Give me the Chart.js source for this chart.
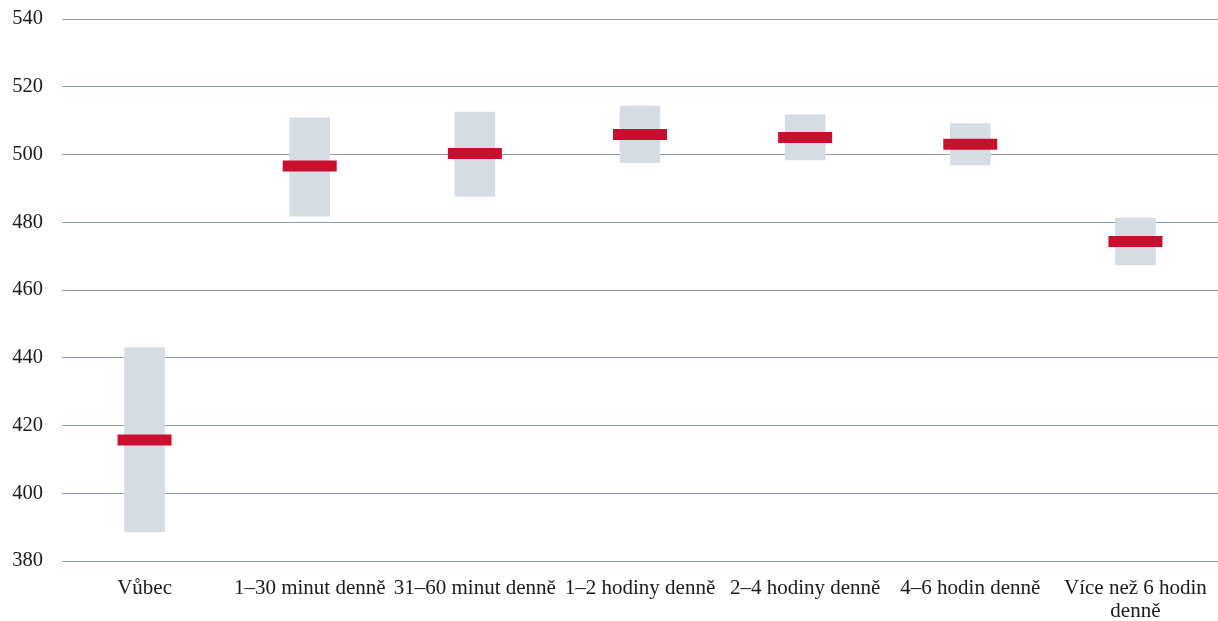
<!DOCTYPE html>
<html>
<head>
<meta charset="utf-8">
<script src="https://cdn.jsdelivr.net/npm/chart.js@4"></script>
<style>
html,body{margin:0;padding:0;background:#fff;overflow:hidden;}
#wrap{width:1218px;height:621px;position:relative;}
</style>
</head>
<body>
<div id="wrap"><canvas id="c"></canvas></div>
<script>
const categories = ["Vůbec", "1–30 minut denně", "31–60 minut denně", "1–2 hodiny denně", "2–4 hodiny denně", "4–6 hodin denně", ["Více než 6 hodin", "denně"]];
const rangeLow  = [388.6, 481.8, 487.7, 497.6, 498.4, 496.9, 467.4];
const rangeHigh = [442.9, 510.8, 512.5, 514.3, 511.7, 509.1, 481.2];
const means     = [415.7, 496.6, 500.3, 505.9, 505.0, 503.0, 474.3];
const yTicks    = [380, 400, 420, 440, 460, 480, 500, 520, 540];

const FONT = "'Liberation Serif', 'Times New Roman', serif";

new Chart(document.getElementById('c'), {
  type: 'bar',
  data: {
    labels: categories,
    datasets: [
      {
        type: 'line',
        label: 'Průměr',
        data: means,
        showLine: false,
        pointStyle: 'line',
        pointRadius: 27,
        pointHoverRadius: 27,
        borderWidth: 11,
        pointBorderWidth: 11,
        borderColor: '#c8102e',
        pointBorderColor: '#c8102e',
        backgroundColor: '#c8102e',
        order: 1
      },
      {
        type: 'bar',
        label: 'Interval',
        data: rangeLow.map((lo, i) => [lo, rangeHigh[i]]),
        backgroundColor: '#d6dce4',
        borderWidth: 0,
        barThickness: 40,
        order: 2
      }
    ]
  },
  options: {
    responsive: true,
    maintainAspectRatio: false,
    animation: false,
    layout: { autoPadding: false, padding: { top: 19, right: 0, left: 0, bottom: 0 } },
    plugins: { legend: { display: false }, tooltip: { enabled: false } },
    scales: {
      x: {
        grid: { display: false, drawTicks: false },
        border: { display: false },
        ticks: {
          color: '#1a1a1a',
          font: { family: FONT, size: 21, lineHeight: 1.08 },
          padding: 16,
          maxRotation: 0,
          autoSkip: false
        },
        afterFit: (axis) => { axis.height = 60; axis.paddingLeft = 0; axis.paddingRight = 0; }
      },
      y: {
        min: 380,
        max: 540,
        afterBuildTicks: (axis) => { axis.ticks = yTicks.map(v => ({ value: v })); },
        grid: { color: '#8e9bb0', lineWidth: 1, drawTicks: false },
        border: { display: false },
        ticks: {
          color: '#1a1a1a',
          font: { family: FONT, size: 20.5 },
          padding: 19
        },
        afterFit: (axis) => { axis.width = 62; axis.paddingTop = 0; axis.paddingBottom = 0; }
      }
    }
  }
});
</script>
</body>
</html>
